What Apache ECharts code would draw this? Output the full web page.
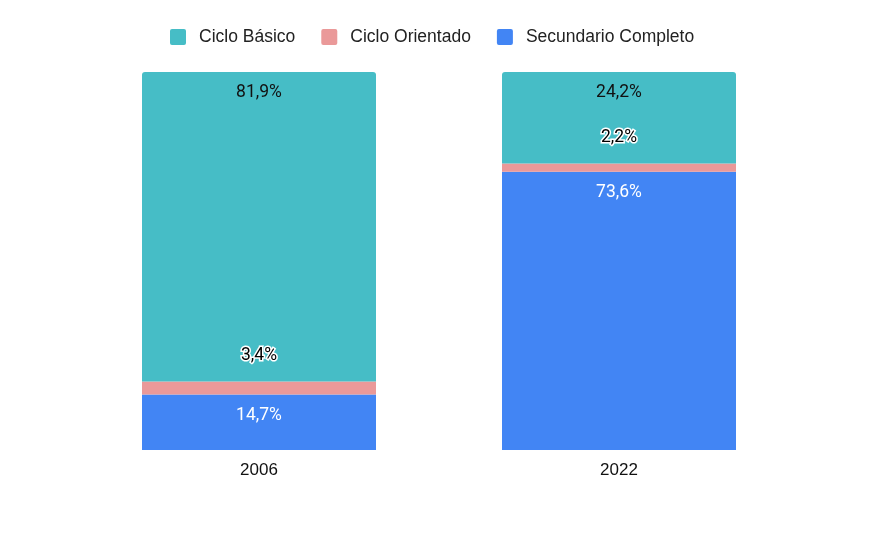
<!DOCTYPE html>
<html>
<head>
<meta charset="utf-8">
<script src="https://cdn.jsdelivr.net/npm/echarts@6/dist/echarts.min.js"></script>
<style>
    html, body { margin: 0; padding: 0; background: #fff; }
    #main { width: 889px; height: 550px; }
</style>
</head>
<body>
<div id="main"></div>
<script>
    // datos
    var years = ['2006', '2022'];
    var cicloBasico = [81.9, 24.2];
    var cicloOrientado = [3.4, 2.2];
    var secundarioCompleto = [14.7, 73.6];

    function fmt(p) {
        return p.value.toFixed(1).replace('.', ',') + '%';
    }

    var myChart = echarts.init(document.getElementById('main'));
    myChart.setOption({
        textStyle: { fontFamily: 'Roboto' },
        legend: {
            top: 23,
            left: 165,
            itemWidth: 16,
            itemHeight: 16,
            itemGap: 26,
            icon: 'path://M2,0 H14 A2,2 0 0 1 16,2 V14 A2,2 0 0 1 14,16 H2 A2,2 0 0 1 0,14 V2 A2,2 0 0 1 2,0 Z',
            textStyle: { fontSize: 17.5, color: '#222', fontFamily: 'Liberation Sans', padding: [0, 0, 0, 8] },
            data: ['Ciclo Básico', 'Ciclo Orientado', 'Secundario Completo']
        },
        grid: { left: 79, right: 90, top: 72, bottom: 100 },
        xAxis: {
            type: 'category',
            data: years,
            axisLine: { show: false },
            axisTick: { show: false },
            axisLabel: { fontSize: 17, color: '#111', fontFamily: 'Liberation Sans', margin: 12 }
        },
        yAxis: {
            type: 'value',
            min: 0,
            max: 100,
            show: false
        },
        series: [
            {
                name: 'Secundario Completo',
                type: 'bar',
                stack: 'total',
                barWidth: '65%',
                data: secundarioCompleto,
                itemStyle: { color: '#4285F4' },
                label: {
                    show: true, position: 'insideTop', distance: 12,
                    fontSize: 17.5, color: '#fff', formatter: fmt
                }
            },
            {
                name: 'Ciclo Orientado',
                type: 'bar',
                stack: 'total',
                data: cicloOrientado,
                itemStyle: { color: '#EA9999' },
                label: {
                    show: true, position: 'top', distance: 17,
                    fontSize: 17.5, color: '#000',
                    textBorderColor: '#fff', textBorderWidth: 3,
                    formatter: fmt
                }
            },
            {
                name: 'Ciclo Básico',
                type: 'bar',
                stack: 'total',
                data: cicloBasico,
                itemStyle: { color: '#46BDC6', borderRadius: [3, 3, 0, 0] },
                label: {
                    show: true, position: 'insideTop', distance: 12,
                    fontSize: 17.5, color: '#111', formatter: fmt
                }
            }
        ]
    });
</script>
</body>
</html>
